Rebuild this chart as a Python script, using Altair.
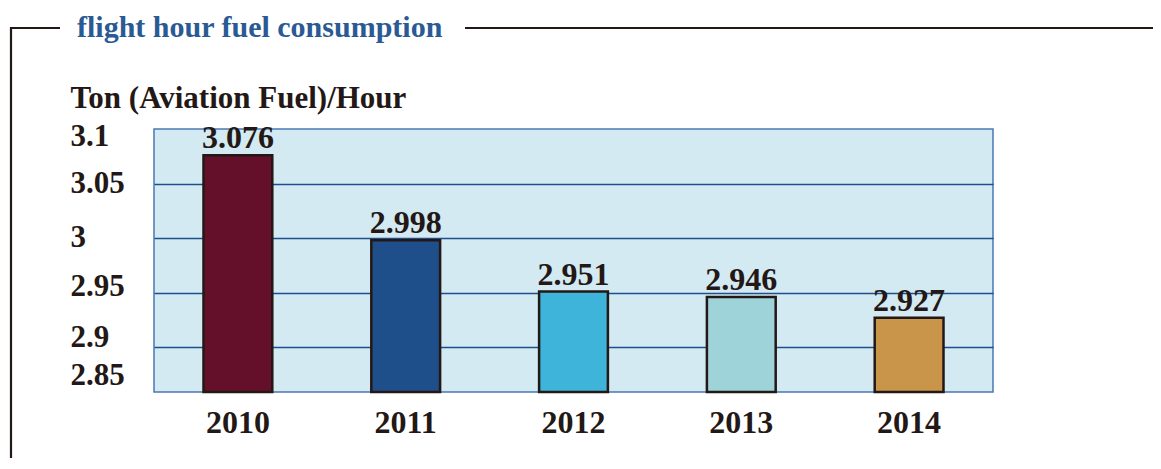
import altair as alt
import pandas as pd

# ---- data ----
years = ["2010", "2011", "2012", "2013", "2014"]
values = [3.076, 2.998, 2.951, 2.946, 2.927]
bar_colors = ["#64102a", "#1f4f8a", "#3fb4da", "#9fd3da", "#c9954a"]
y_ticks = [3.1, 3.05, 3.0, 2.95, 2.9]
y_min = 2.859  # bottom of axis (labelled 2.85)
y_max = 3.1
title_text = "flight hour fuel consumption"
y_title = "Ton (Aviation Fuel)/Hour"

FONT = "Liberation Serif"
DARK = "#231815"

df = pd.DataFrame({"year": years, "value": values})

label_offset_expr = (
    "datum.value > 3.09 ? 7 : datum.value > 3.04 ? 0 : datum.value > 2.99 ? -1 : "
    "datum.value > 2.94 ? -6 : datum.value > 2.89 ? -10 : -17"
)

x_enc = alt.X(
    "year:N",
    sort=years,
    scale=alt.Scale(paddingInner=0.59, paddingOuter=0.295),
    axis=alt.Axis(
        title=None, labelAngle=0, domain=False, ticks=False, tickSize=0, grid=False,
        labelFont=FONT, labelFontSize=32, labelFontWeight="bold", labelColor=DARK,
        labelPadding=15, labelBaseline="top",
    ),
)

y_enc = alt.Y(
    "value:Q",
    scale=alt.Scale(domain=[y_min, y_max], zero=False, nice=False),
    axis=alt.Axis(
        values=y_ticks + [y_min],
        labelExpr="datum.value < 2.86 ? '2.85' : '' + datum.value",
        title=y_title, titleAngle=0, titleAlign="left", titleBaseline="alphabetic",
        titleX=-84, titleY=-22, titleFont=FONT, titleFontSize=31,
        titleFontWeight="bold", titleColor=DARK,
        labelFont=FONT, labelFontSize=31, labelFontWeight="bold", labelColor=DARK,
        labelAlign="left", labelBaseline="middle", labelPadding=84,
        labelOffset=alt.ExprRef(expr=label_offset_expr), labelFlush=False,
        domain=False, ticks=False, tickSize=0,
        grid=True, gridColor="#1f4e8c", gridWidth=1.3,
        gridOpacity={"condition": {"test": "datum.value > 3.09 || datum.value < 2.86", "value": 0}, "value": 1},
    ),
)

bars = alt.Chart(df).mark_bar(stroke=DARK, strokeWidth=2.5).encode(
    x=x_enc,
    y=y_enc,
    y2=alt.datum(y_min),
    color=alt.Color("year:N", scale=alt.Scale(domain=years, range=bar_colors), legend=None),
)

labels = alt.Chart(df).mark_text(
    baseline="alphabetic", dy=-7, font=FONT, fontSize=32, fontWeight="bold", color=DARK
).encode(
    x=alt.X("year:N", sort=years),
    y="value:Q",
    text=alt.Text("value:Q", format=".3f"),
)

one = pd.DataFrame({"t": [title_text]})

title = alt.Chart(one).mark_text(
    align="left", baseline="alphabetic", font=FONT, fontSize=30, fontWeight="bold",
    color="#2a5a94",
).encode(x=alt.value(-77), y=alt.value(-92), text="t:N")

rule_left = alt.Chart(one).mark_rule(color=DARK, strokeWidth=2.2).encode(
    x=alt.value(-144), x2=alt.value(-94), y=alt.value(-101)
)
rule_right = alt.Chart(one).mark_rule(color=DARK, strokeWidth=2.2).encode(
    x=alt.value(311), x2=alt.value(1010), y=alt.value(-101)
)
rule_vert = alt.Chart(one).mark_rule(color=DARK, strokeWidth=2.2).encode(
    x=alt.value(-143), y=alt.value(-102), y2=alt.value(360)
)

chart = alt.layer(bars, labels, title, rule_left, rule_right, rule_vert).properties(
    width=839,
    height=263,
    padding={"left": 146, "top": 121, "right": 160, "bottom": 66},
    autosize=alt.AutoSizeParams(type="none"),
).configure_view(
    fill="#d3eaf2", stroke="#4a78b4", strokeWidth=1.5
)

chart.save("out.html", embed_options={"renderer": "svg", "actions": False})
